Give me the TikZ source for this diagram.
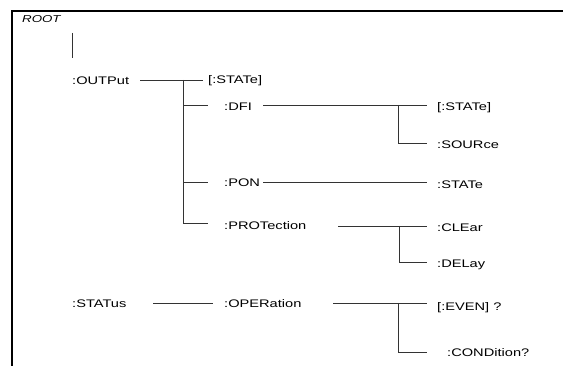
\documentclass[tikz,border=0pt]{standalone}
\usepackage{fontspec}
\setmainfont{Liberation Sans}[FakeStretch=1.33]
\begin{document}
\begin{tikzpicture}[x=1pt,y=-1pt,
  lbl/.style={anchor=west,inner sep=0pt,font=\fontsize{11}{13}\selectfont},
  conn/.style={line width=0.7pt,draw=black!80},
  frame/.style={line width=1.1pt,draw=black}]
\useasboundingbox (0,0) rectangle (563,366);
\draw[frame] (12,366) -- (12,11) -- (563,11);
% texts
\node[lbl,font=\fontsize{10}{12}\selectfont\itshape] (root) at (22,19) {ROOT};
\node[lbl] (out) at (72,81) {:OUTPut};
\node[lbl] (st1) at (208,81) {[:STATe]};
\node[lbl] (dfi) at (224,107) {:DFI};
\node[lbl] (pon) at (224,183) {:PON};
\node[lbl] (prot) at (224,226) {:PROTection};
\node[lbl] (st2) at (437,108) {[:STATe]};
\node[lbl] (src) at (437,145) {:SOURce};
\node[lbl] (st3) at (437,185) {:STATe};
\node[lbl] (clr) at (437,228) {:CLEar};
\node[lbl] (dly) at (437,265) {:DELay};
\node[lbl] (stat) at (72,304) {:STATus};
\node[lbl] (oper) at (224,304) {:OPERation};
\node[lbl] (even) at (437,308) {[:EVEN] ?};
\node[lbl] (cond) at (447,353) {:CONDition?};
% coordinates
\coordinate (r1) at (72,33);
\coordinate (r2) at (72,58);
\coordinate (oa) at (140,80);
\coordinate (ob) at (203,80);
\coordinate (t1) at (183,80);
\coordinate (t2) at (183,105);
\coordinate (t3) at (183,182);
\coordinate (t4) at (183,223);
\coordinate (tb2) at (208,105);
\coordinate (tb3) at (208,182);
\coordinate (tb4) at (208,223);
\coordinate (da) at (263,105);
\coordinate (db) at (427,105);
\coordinate (dj) at (398,105);
\coordinate (dj2) at (398,143);
\coordinate (dk) at (427,143);
\coordinate (pa) at (263,182);
\coordinate (pb) at (427,182);
\coordinate (qa) at (338,226);
\coordinate (qb) at (427,226);
\coordinate (qj) at (399,226);
\coordinate (qj2) at (399,262);
\coordinate (qk) at (427,262);
\coordinate (sa) at (153,303);
\coordinate (sb) at (213,303);
\coordinate (ea) at (333,303);
\coordinate (eb) at (427,303);
\coordinate (ej) at (398,303);
\coordinate (ej2) at (398,352);
\coordinate (ek) at (427,352);
% connectors
\draw[conn] (r1) -- (r2);
\draw[conn] (oa) -- (ob);
\draw[conn] (t1) -- (t4);
\draw[conn] (t2) -- (tb2);
\draw[conn] (t3) -- (tb3);
\draw[conn] (t4) -- (tb4);
\draw[conn] (da) -- (db);
\draw[conn] (dj) -- (dj2) -- (dk);
\draw[conn] (pa) -- (pb);
\draw[conn] (qa) -- (qb);
\draw[conn] (qj) -- (qj2) -- (qk);
\draw[conn] (sa) -- (sb);
\draw[conn] (ea) -- (eb);
\draw[conn] (ej) -- (ej2) -- (ek);
\end{tikzpicture}
\end{document}
